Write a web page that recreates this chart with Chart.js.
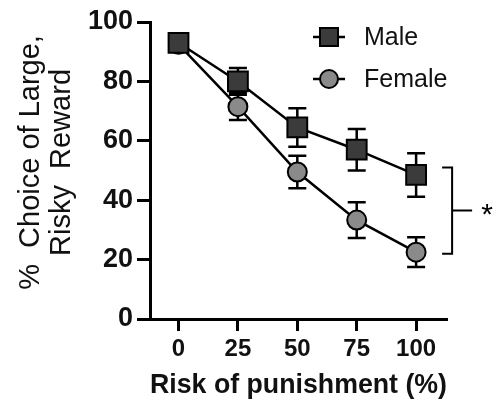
<!DOCTYPE html>
<html>
<head>
<meta charset="utf-8">
<script src="https://cdn.jsdelivr.net/npm/chart.js@4/dist/chart.umd.min.js"></script>
<style>
html,body{margin:0;padding:0;background:#fff;}
canvas{display:block;}
</style>
</head>
<body>
<canvas id="c" width="495" height="410"></canvas>
<script>
// ---- data ----
const xTicks = [0, 25, 50, 75, 100];
const yTicks = [0, 20, 40, 60, 80, 100];
const seriesNames = ['Male', 'Female'];
const maleMean = [93, 80, 64.5, 57, 48.5];
const maleSem = [3, 4.5, 6.5, 7, 7.3];
const femaleMean = [92.5, 71.5, 49.5, 33.3, 22.5];
const femaleSem = [2.5, 4.5, 5.5, 6, 5];
const bracketRange = [51, 22];
const sigMark = '*';
const xTitle = 'Risk of punishment (%)';
const yTitle = ['  %  Choice of Large,', '  Risky  Reward'];

const FONT = '"Liberation Sans", Arial, sans-serif';
const maleFill = '#3b3b3b';
const femaleFill = '#8a8a8a';

const means = [maleMean, femaleMean];
const sems = [maleSem, femaleSem];

const overlay = {
  id: 'overlay',
  beforeDatasetsDraw(chart) {
    const ctx = chart.ctx, xs = chart.scales.x, ys = chart.scales.y;
    ctx.save();
    ctx.strokeStyle = '#000';
    ctx.lineWidth = 2.5;
    for (let i = means.length - 1; i >= 0; i--) {
      for (let j = 0; j < xTicks.length; j++) {
        const x = xs.getPixelForValue(xTicks[j]);
        const yt = ys.getPixelForValue(means[i][j] + sems[i][j]);
        const yb = ys.getPixelForValue(means[i][j] - sems[i][j]);
        ctx.beginPath();
        ctx.moveTo(x, yt); ctx.lineTo(x, yb);
        ctx.moveTo(x - 9, yt); ctx.lineTo(x + 9, yt);
        ctx.moveTo(x - 9, yb); ctx.lineTo(x + 9, yb);
        ctx.stroke();
      }
    }
    ctx.restore();
  },
  afterDatasetsDraw(chart) {
    const ctx = chart.ctx, xs = chart.scales.x, ys = chart.scales.y;
    ctx.save();
    // significance bracket
    const xb = xs.getPixelForValue(xTicks[xTicks.length - 1]) + 36;
    const y1 = ys.getPixelForValue(bracketRange[0]);
    const y2 = ys.getPixelForValue(bracketRange[1]);
    const ym = (y1 + y2) / 2;
    ctx.strokeStyle = '#000';
    ctx.lineWidth = 2;
    ctx.beginPath();
    ctx.moveTo(xb - 10, y1); ctx.lineTo(xb, y1); ctx.lineTo(xb, y2); ctx.lineTo(xb - 10, y2);
    ctx.moveTo(xb, ym); ctx.lineTo(xb + 20, ym);
    ctx.stroke();
    ctx.fillStyle = '#000';
    ctx.font = '30px ' + FONT;
    ctx.textAlign = 'center';
    ctx.textBaseline = 'middle';
    ctx.fillText(sigMark, xb + 35, ym + 5);

    // legend
    const lx = 329;
    const ly = [37, 79];
    for (let i = 0; i < seriesNames.length; i++) {
      ctx.lineWidth = 2.5;
      ctx.strokeStyle = '#000';
      ctx.beginPath();
      ctx.moveTo(lx - 16, ly[i]); ctx.lineTo(lx + 16, ly[i]);
      ctx.stroke();
      ctx.lineWidth = 2;
      ctx.fillStyle = i === 0 ? maleFill : femaleFill;
      ctx.beginPath();
      if (i === 0) ctx.rect(lx - 9, ly[i] - 9, 18, 18);
      else ctx.arc(lx, ly[i], 9, 0, Math.PI * 2);
      ctx.fill(); ctx.stroke();
      ctx.fillStyle = '#111';
      ctx.font = '25px ' + FONT;
      ctx.textAlign = 'left';
      ctx.textBaseline = 'middle';
      ctx.fillText(seriesNames[i], 364, ly[i] + 1);
    }
    ctx.restore();
  }
};

new Chart(document.getElementById('c'), {
  type: 'line',
  data: {
    datasets: [
      {
        label: seriesNames[0],
        data: xTicks.map((x, i) => ({x: x, y: maleMean[i]})),
        borderColor: '#000',
        borderWidth: 2.5,
        pointStyle: 'rect',
        pointRadius: 14,
        pointBackgroundColor: maleFill,
        pointBorderColor: '#000',
        pointBorderWidth: 2,
        fill: false,
        tension: 0
      },
      {
        label: seriesNames[1],
        data: xTicks.map((x, i) => ({x: x, y: femaleMean[i]})),
        borderColor: '#000',
        borderWidth: 2.5,
        pointStyle: 'circle',
        pointRadius: 9.5,
        pointBackgroundColor: femaleFill,
        pointBorderColor: '#000',
        pointBorderWidth: 2,
        fill: false,
        tension: 0
      }
    ]
  },
  options: {
    responsive: false,
    animation: false,
    events: [],
    layout: {padding: {top: 22, right: 48, bottom: 0, left: 0}},
    plugins: {legend: {display: false}, tooltip: {enabled: false}},
    scales: {
      x: {
        type: 'linear',
        min: -12,
        max: 113,
        afterBuildTicks: (s) => { s.ticks = xTicks.map(v => ({value: v})); },
        afterFit: (s) => { s.height = 91; },
        border: {display: true, color: '#000', width: 3},
        grid: {drawOnChartArea: false, drawTicks: true, tickLength: 12, tickWidth: 3, tickColor: '#000'},
        ticks: {color: '#111', padding: 4, font: {family: FONT, size: 24, weight: 'bold'}, maxRotation: 0, autoSkip: false},
        title: {display: true, text: xTitle, color: '#111', padding: {top: 0, bottom: 8}, font: {family: FONT, size: 28, weight: 'bold'}}
      },
      y: {
        min: 0,
        max: 100,
        afterBuildTicks: (s) => { s.ticks = yTicks.map(v => ({value: v})); },
        afterFit: (s) => { s.width = 150; },
        border: {display: true, color: '#000', width: 3},
        grid: {drawOnChartArea: false, drawTicks: true, tickLength: 13, tickWidth: 3, tickColor: '#000'},
        ticks: {color: '#111', padding: 4, font: {family: FONT, size: 27, weight: 'bold'}},
        title: {display: true, text: yTitle, color: '#111', padding: {top: 15, bottom: 0}, font: {family: FONT, size: 29, lineHeight: 1.08}}
      }
    }
  },
  plugins: [overlay]
});
</script>
</body>
</html>
